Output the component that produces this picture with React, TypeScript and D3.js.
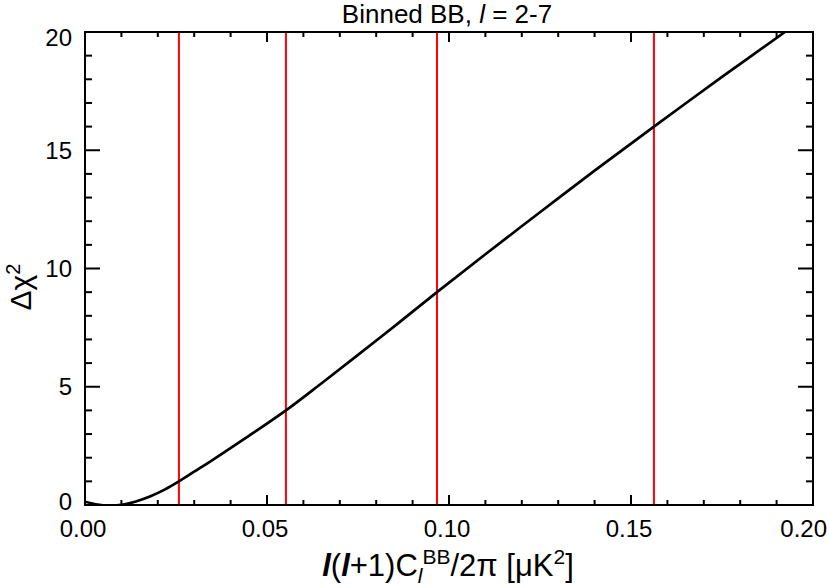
import React from "react";
import * as d3 from "d3";

const curveX = [0, 0.0035, 0.007, 0.0105, 0.014, 0.018, 0.022, 0.0258, 0.03, 0.035, 0.045, 0.0552, 0.065, 0.075, 0.086, 0.0967, 0.11, 0.125, 0.14, 0.1563, 0.175, 0.1923, 0.196];
const curveY = [0.14, 0.02, -0.03, 0.02, 0.15, 0.37, 0.66, 1.0, 1.41, 1.9, 2.92, 4.0, 5.15, 6.35, 7.68, 9.0, 10.6, 12.38, 14.14, 16.0, 18.1, 20.0, 20.4];
const redLines = [0.0258, 0.0552, 0.0967, 0.1563];
const xTicks = [0, 0.05, 0.1, 0.15, 0.2];
const xTickLabels = ["0.00", "0.05", "0.10", "0.15", "0.20"];
const yTicks = [0, 5, 10, 15, 20];
const yTickLabels = ["0", "5", "10", "15", "20"];

const W = 830, H = 588;
const L = 85, R = 813, T = 32, B = 505;
const FONT = "'Liberation Sans', Arial, Helvetica, sans-serif";

export default function App() {
  const x = d3.scaleLinear().domain([0, 0.2]).range([L, R]);
  const y = d3.scaleLinear().domain([0, 20]).range([B, T]);
  const line = d3.line<number>()
    .x((_, i) => x(curveX[i]))
    .y((d) => y(d))
    .curve(d3.curveCatmullRom.alpha(0.5));
  const xMinor = d3.range(0, 21).map((i) => i * 0.01);
  const yMinor = d3.range(0, 21);
  const tickLabelOffsetY = (v: number) => (v === 0 ? -4 : v === 20 ? 5 : 0);
  return (
    <svg width={W} height={H} style={{ position: "absolute", left: 0, top: 0, background: "#fff" }}>
      <defs>
        <clipPath id="plotclip">
          <rect x={L} y={T} width={R - L} height={B - T} />
        </clipPath>
      </defs>
      <rect x={0} y={0} width={W} height={H} fill="#fff" />
      <g clipPath="url(#plotclip)">
        {redLines.map((v, i) => (
          <line key={i} x1={x(v)} x2={x(v)} y1={T} y2={B} stroke="#ff0000" strokeWidth={2} />
        ))}
        <path d={line(curveY) || ""} fill="none" stroke="#000" strokeWidth={2.7} />
      </g>
      {xMinor.map((v, i) => {
        const major = i % 5 === 0;
        const len = major ? 10 : 5;
        return (
          <g key={"xt" + i}>
            <line x1={x(v)} x2={x(v)} y1={B} y2={B - len} stroke="#000" strokeWidth={2} />
            <line x1={x(v)} x2={x(v)} y1={T} y2={T + len} stroke="#000" strokeWidth={2} />
          </g>
        );
      })}
      {yMinor.map((v, i) => {
        const major = i % 5 === 0;
        const len = major ? 15 : 7;
        return (
          <g key={"yt" + i}>
            <line x1={L} x2={L + len} y1={y(v)} y2={y(v)} stroke="#000" strokeWidth={2} />
            <line x1={R} x2={R - len} y1={y(v)} y2={y(v)} stroke="#000" strokeWidth={2} />
          </g>
        );
      })}
      <rect x={L} y={T} width={R - L} height={B - T} fill="none" stroke="#000" strokeWidth={2} />
      {xTicks.map((v, i) => (
        <text key={"xl" + i} x={i === xTicks.length - 1 ? 827 : x(v) - 2} y={537}
          textAnchor={i === xTicks.length - 1 ? "end" : "middle"} fontFamily={FONT} fontSize={24} fill="#000">
          {xTickLabels[i]}
        </text>
      ))}
      {yTicks.map((v, i) => (
        <text key={"yl" + i} x={72} y={y(v) + tickLabelOffsetY(v)} dy="0.36em" textAnchor="end" fontFamily={FONT} fontSize={24} fill="#000">
          {yTickLabels[i]}
        </text>
      ))}
      <text x={447} y={23} textAnchor="middle" fontFamily={FONT} fontSize={26} fill="#000">
        Binned BB, <tspan fontStyle="italic">l</tspan> = 2-7
      </text>
      <text x={448} y={576} textAnchor="middle" fontFamily={FONT} fontSize={31} fill="#000">
        <tspan fontStyle="italic" fontWeight="bold">l</tspan>(<tspan fontStyle="italic" fontWeight="bold">l</tspan>+1)C
        <tspan fontStyle="italic" fontSize={21} dy={7}>l</tspan>
        <tspan fontSize={21} dy={-19}>BB</tspan>
        <tspan dy={12}>/2π [μK</tspan>
        <tspan fontSize={21} dy={-12}>2</tspan>
        <tspan dy={12}>]</tspan>
      </text>
      <text transform={`translate(31, 287) rotate(-90)`} textAnchor="middle" fontFamily={FONT} fontSize={30} fill="#000">
        Δχ<tspan fontSize={20} dy={-11}>2</tspan>
      </text>
    </svg>
  );
}
